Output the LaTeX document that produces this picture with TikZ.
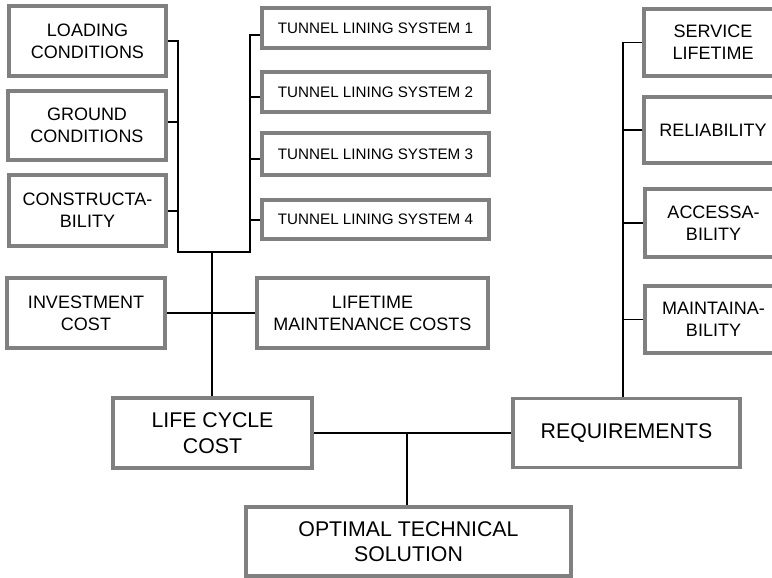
\documentclass[tikz,border=0pt]{standalone}
\usepackage{fontspec}
\setmainfont{Liberation Sans}
\begin{document}
\begin{tikzpicture}[x=1pt,y=-1pt,
  box/.style={draw=black!50, line width=3.4pt, fill=white, align=center,
    inner sep=0pt, font=\fontsize{18}{22}\selectfont},
  bigbox/.style={box, font=\fontsize{21.3}{25.5}\selectfont},
  tunbox/.style={box, font=\fontsize{15.2}{18}\selectfont},
  link/.style={draw=black, line width=1.3pt}]
\useasboundingbox (0,0) rectangle (772,578);
\clip (0,0) rectangle (772,578);
\fill[white] (0,0) rectangle (772,578);

% influencing factors (left column)
\node[box, minimum width=157pt, minimum height=70pt] (load) at (87.5,41) {LOADING\\CONDITIONS};
\node[box, minimum width=158pt, minimum height=69pt] (ground) at (87,125.5) {GROUND\\CONDITIONS};
\node[box, minimum width=157pt, minimum height=71pt] (constr) at (87.5,210.5) {CONSTRUCTA-\\BILITY};
\node[box, minimum width=158pt, minimum height=70pt] (invest) at (86,313) {INVESTMENT\\COST};

% lining alternatives
\node[tunbox, minimum width=227pt, minimum height=40pt] (t1) at (375.5,28) {TUNNEL LINING SYSTEM 1};
\node[tunbox, minimum width=227pt, minimum height=40pt] (t2) at (375.5,92) {TUNNEL LINING SYSTEM 2};
\node[tunbox, minimum width=227pt, minimum height=42pt] (t3) at (375.5,154) {TUNNEL LINING SYSTEM 3};
\node[tunbox, minimum width=227pt, minimum height=39pt] (t4) at (375.5,219.5) {TUNNEL LINING SYSTEM 4};

\node[box, minimum width=231pt, minimum height=70pt] (lmc) at (372.5,313) {LIFETIME\\MAINTENANCE COSTS};

% requirement criteria (right column)
\node[box, minimum width=138pt, minimum height=67pt] (sl) at (713,42.5) {SERVICE\\LIFETIME};
\node[box, minimum width=138pt, minimum height=66pt] (rel) at (713,130) {RELIABILITY};
\node[box, minimum width=137pt, minimum height=68pt] (acc) at (713.5,223) {ACCESSA-\\BILITY};
\node[box, minimum width=137pt, minimum height=67pt] (mnt) at (713.5,319.5) {MAINTAINA-\\BILITY};

% main blocks
\node[bigbox, minimum width=199pt, minimum height=70pt] (lcc) at (212.5,433) {LIFE CYCLE\\COST};
\node[bigbox, minimum width=227pt, minimum height=69pt] (req) at (626.5,433) {REQUIREMENTS};
\node[bigbox, minimum width=325pt, minimum height=69pt] (opt) at (408.5,541.5) {OPTIMAL TECHNICAL\\SOLUTION};

% bracket joints
\coordinate (lbot) at (178,252);
\coordinate (rbot) at (250,252);
\coordinate (hub) at (212,252);
\coordinate (gs) at (178,122);
\coordinate (cs) at (178,211);
\coordinate (s1) at (250,35);
\coordinate (s2) at (250,97);
\coordinate (s3) at (250,159);
\coordinate (s4) at (250,220);
\coordinate (rtop) at (623,42.5);
\coordinate (mid) at (407,433);

% left bracket and lining bracket
\draw[link] (load.east) -| (lbot) -- (rbot) |- (s1) -- (s1 -| t1.west);
\draw[link] (gs -| ground.east) -- (gs);
\draw[link] (cs -| constr.east) -- (cs);
\draw[link] (s2) -- (s2 -| t2.west);
\draw[link] (s3) -- (s3 -| t3.west);
\draw[link] (s4) -- (s4 -| t4.west);

% cost branch
\draw[link] (hub) -- (hub |- lcc.north);
\draw[link] (invest.east) -- (lmc.west);

% requirement bracket
\draw[link] (sl.west) -- (rtop) -- (rtop |- req.north);
\draw[link] (rel.west) -- (rel.west -| rtop);
\draw[link] (acc.west) -- (acc.west -| rtop);
\draw[link] (mnt.west) -- (mnt.west -| rtop);

% combination into the solution
\draw[link] (lcc.east) -- (req.west);
\draw[link] (mid) -- (mid |- opt.north);
\end{tikzpicture}
\end{document}
